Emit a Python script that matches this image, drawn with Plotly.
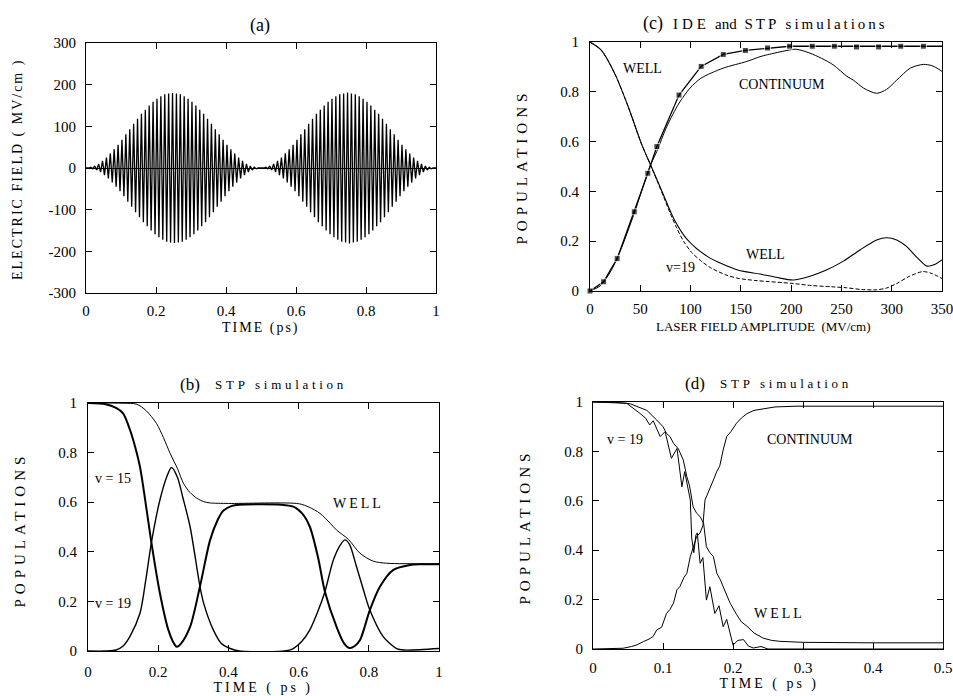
import json
import plotly.graph_objects as go

W, H = 953, 696
SERIF = "Liberation Serif"

# ---------------- (a) electric field: peak amplitude of each carrier cycle (MV/cm)
a_pulse_starts = [0.0, 0.5]
a_pulse_length = 0.5
a_pulse1_amp = [0, 2, 5, 10, 17, 25, 35, 45, 56, 68, 81, 93, 106, 118, 130, 140, 150, 159,
                166, 172, 177, 179, 180, 179, 177, 172, 166, 159, 150, 140, 130, 118, 106, 93,
                81, 68, 56, 45, 35, 25, 17, 10, 5, 2, 0]
a_pulse2_amp = [0, 2, 5, 10, 17, 25, 35, 45, 56, 68, 81, 93, 106, 118, 130, 140, 150, 159,
                166, 172, 177, 179, 181, 179, 177, 172, 166, 159, 150, 140, 130, 118, 106, 93,
                81, 68, 56, 45, 35, 25, 17, 10, 5, 2, 0]
a_xticks = [0, 0.2, 0.4, 0.6, 0.8, 1]
a_xtext = ["0", "0.2", "0.4", "0.6", "0.8", "1"]
a_yticks = [-300, -200, -100, 0, 100, 200, 300]
a_ytext = ["-300", "-200", "-100", "0", "100", "200", "300"]

# ---------------- (b) STP simulation (time in ps)
b_t_well = [0, 0.1, 0.139, 0.165, 0.195, 0.215, 0.234, 0.255, 0.272, 0.29, 0.31, 0.33, 0.348,
            0.4, 0.6, 0.63, 0.661, 0.69, 0.708, 0.742, 0.775, 0.813, 0.85, 0.9, 1.0]
b_well = [1, 0.999, 0.995, 0.97, 0.918, 0.86, 0.797, 0.735, 0.676, 0.64, 0.616, 0.602, 0.597,
          0.595, 0.594, 0.58, 0.555, 0.515, 0.488, 0.45, 0.394, 0.362, 0.354, 0.352, 0.352]
b_t_v15 = [0, 0.05, 0.08, 0.1, 0.115, 0.129, 0.148, 0.167, 0.181, 0.205, 0.229, 0.245, 0.253,
           0.265, 0.291, 0.319, 0.348, 0.37, 0.385, 0.41, 0.43, 0.55, 0.585, 0.61, 0.632, 0.655,
           0.675, 0.708, 0.73, 0.746, 0.76, 0.775, 0.803, 0.832, 0.87, 0.917, 0.95, 1.0]
b_v15 = [1, 0.995, 0.98, 0.958, 0.91, 0.85, 0.743, 0.569, 0.434, 0.232, 0.085, 0.03, 0.017,
         0.03, 0.098, 0.26, 0.448, 0.53, 0.565, 0.585, 0.59, 0.59, 0.582, 0.555, 0.501, 0.38,
         0.239, 0.098, 0.03, 0.012, 0.02, 0.044, 0.165, 0.26, 0.327, 0.347, 0.35, 0.35]
b_t_v19 = [0, 0.05, 0.08, 0.1, 0.12, 0.148, 0.165, 0.181, 0.205, 0.225, 0.238, 0.255, 0.27,
           0.291, 0.319, 0.33, 0.357, 0.38, 0.405, 0.43, 0.56, 0.585, 0.61, 0.632, 0.655, 0.675,
           0.699, 0.72, 0.732, 0.745, 0.765, 0.785, 0.803, 0.841, 0.879, 0.9, 1.0]
b_v19 = [0, 0, 0.004, 0.02, 0.06, 0.152, 0.29, 0.44, 0.61, 0.705, 0.74, 0.70, 0.62, 0.5, 0.26,
         0.19, 0.085, 0.03, 0.01, 0, 0, 0.01, 0.04, 0.085, 0.16, 0.239, 0.367, 0.43, 0.448,
         0.43, 0.34, 0.245, 0.165, 0.058, 0.01, 0.004, 0.01]
b_xticks = [0, 0.2, 0.4, 0.6, 0.8, 1]
b_xtext = ["0", "0.2", "0.4", "0.6", "0.8", "1"]
pop_ticks = [0, 0.2, 0.4, 0.6, 0.8, 1]
pop_text = ["0", "0.2", "0.4", "0.6", "0.8", "1"]

# ---------------- (c) IDE and STP simulations (field amplitude in MV/cm)
c_x_stp = [0, 13.5, 27, 44, 57.5, 66.5, 88.5, 110.5, 132.5, 154.5, 176.5, 198.5, 221, 243,
           265, 287, 309, 331.5, 350]
c_stp = [0, 0.037, 0.13, 0.318, 0.473, 0.58, 0.787, 0.902, 0.95, 0.966, 0.976, 0.983, 0.983,
         0.983, 0.98, 0.98, 0.983, 0.983, 0.983]
c_stp_marked = [1] * 18 + [0]
c_x_cont = [0, 10, 20, 30, 44, 60, 66.4, 76.3, 88.6, 99.5, 110.5, 132.4, 156, 169, 176.5,
            195.8, 205, 218.8, 230, 241.9, 255.5, 261.8, 272, 285, 295, 305, 318.5, 331.4,
            340, 345, 350]
c_cont = [0, 0.02, 0.075, 0.16, 0.312, 0.505, 0.56, 0.66, 0.755, 0.815, 0.855, 0.895, 0.922,
          0.941, 0.949, 0.966, 0.971, 0.955, 0.935, 0.908, 0.862, 0.847, 0.815, 0.794, 0.81,
          0.847, 0.895, 0.91, 0.905, 0.895, 0.882]
c_x_well = [0, 11, 24.5, 38, 51, 61, 71, 84, 97, 117, 147, 169, 185, 202, 218, 235, 252, 268.5,
            285, 295, 305, 315, 325, 335, 342, 350]
c_well = [1.0, 0.968, 0.874, 0.74, 0.593, 0.499, 0.406, 0.285, 0.205, 0.138, 0.084, 0.068,
          0.055, 0.044, 0.058, 0.084, 0.12, 0.165, 0.205, 0.214, 0.205, 0.178, 0.135, 0.1,
          0.105, 0.125]
c_x_v19 = [0, 11, 24.5, 38, 51, 61, 68, 74, 80, 86, 93, 101, 110, 120, 135, 147, 165, 177, 200,
           220, 240, 255, 270, 285, 295, 305, 318, 331, 340, 350]
c_v19 = [1.0, 0.968, 0.874, 0.74, 0.593, 0.499, 0.43, 0.37, 0.31, 0.255, 0.2, 0.155, 0.122,
         0.093, 0.065, 0.051, 0.042, 0.038, 0.031, 0.022, 0.017, 0.013, 0.006, 0.005, 0.012,
         0.03, 0.06, 0.078, 0.07, 0.05]
c_xticks = [0, 50, 100, 150, 200, 250, 300, 350]

# ---------------- (d) STP simulation (time in ps)
d_t_cont = [0, 0.03, 0.043, 0.055, 0.063, 0.072, 0.08, 0.086, 0.091, 0.098, 0.105, 0.11, 0.115,
            0.12, 0.124, 0.13, 0.134, 0.139, 0.143, 0.148, 0.153, 0.157, 0.16, 0.166, 0.172,
            0.177, 0.181, 0.186, 0.191, 0.197, 0.205, 0.212, 0.22, 0.23, 0.243, 0.26, 0.29, 0.5]
d_cont = [0, 0, 0.003, 0.01, 0.017, 0.03, 0.04, 0.051, 0.077, 0.088, 0.144, 0.16, 0.186, 0.24,
          0.252, 0.29, 0.306, 0.374, 0.414, 0.455, 0.47, 0.5, 0.603, 0.64, 0.684, 0.72, 0.74,
          0.806, 0.86, 0.88, 0.914, 0.935, 0.953, 0.966, 0.973, 0.98, 0.983, 0.983]
d_t_well = [0, 0.03, 0.053, 0.077, 0.091, 0.1, 0.105, 0.11, 0.115, 0.122, 0.129, 0.134, 0.138,
            0.143, 0.148, 0.153, 0.158, 0.162, 0.167, 0.172, 0.177, 0.182, 0.186, 0.191, 0.196,
            0.205, 0.212, 0.22, 0.23, 0.243, 0.255, 0.267, 0.3, 0.4, 0.5]
d_well = [1, 0.999, 0.993, 0.966, 0.927, 0.9, 0.873, 0.86, 0.833, 0.81, 0.765, 0.698, 0.66,
          0.576, 0.55, 0.536, 0.509, 0.414, 0.39, 0.374, 0.306, 0.28, 0.252, 0.22, 0.185, 0.14,
          0.11, 0.092, 0.065, 0.044, 0.035, 0.031, 0.027, 0.025, 0.025]
d_t_v19 = [0, 0.03, 0.048, 0.067, 0.075, 0.081, 0.086, 0.096, 0.103, 0.112, 0.12, 0.127, 0.131,
           0.139, 0.141, 0.144, 0.147, 0.149, 0.153, 0.157, 0.162, 0.167, 0.174, 0.18, 0.186,
           0.191, 0.2, 0.207, 0.215, 0.222, 0.229, 0.24, 0.25, 0.5]
d_v19 = [1, 0.998, 0.995, 0.954, 0.935, 0.907, 0.924, 0.86, 0.88, 0.772, 0.812, 0.657, 0.718,
         0.603, 0.45, 0.39, 0.461, 0.47, 0.347, 0.37, 0.198, 0.252, 0.144, 0.175, 0.09, 0.12,
         0.016, 0.035, 0.038, 0.012, 0.004, 0.01, 0, 0]
d_xticks = [0, 0.1, 0.2, 0.3, 0.4, 0.5]
d_xtext = ["0", "0.1", "0.2", "0.3", "0.4", "0.5"]

# ---------------- build the (a) carrier trace from the per-cycle peaks
a_x, a_y = [0.0], [0.0]
for start, amps in zip(a_pulse_starts, [a_pulse1_amp, a_pulse2_amp]):
    period = a_pulse_length / len(amps)
    for k, amp in enumerate(amps):
        tc = start + (k + 0.5) * period
        a_x += [tc - period / 4, tc + period / 4]
        a_y += [amp, -amp]
a_x.append(1.0)
a_y.append(0.0)

fig = go.Figure()
blk = "black"
fig.add_trace(go.Scatter(x=a_x, y=a_y, mode="lines", line=dict(color=blk, width=1.3),
                         xaxis="x", yaxis="y", showlegend=False))

sp = dict(shape="spline", smoothing=0.8)
fig.add_trace(go.Scatter(x=c_x_cont, y=c_cont, mode="lines", line=dict(color=blk, width=1, **sp),
                         xaxis="x2", yaxis="y2", showlegend=False))
fig.add_trace(go.Scatter(x=c_x_v19, y=c_v19, mode="lines",
                         line=dict(color=blk, width=1, dash="4px,2px", **sp),
                         xaxis="x2", yaxis="y2", showlegend=False))
fig.add_trace(go.Scatter(x=c_x_well, y=c_well, mode="lines", line=dict(color=blk, width=1.1, **sp),
                         xaxis="x2", yaxis="y2", showlegend=False))
fig.add_trace(go.Scatter(x=c_x_stp, y=c_stp, mode="lines+markers",
                         line=dict(color=blk, width=1.3),
                         marker=dict(symbol="square", color=blk,
                                     size=[6 if m else 0 for m in c_stp_marked]),
                         cliponaxis=False, xaxis="x2", yaxis="y2", showlegend=False))

fig.add_trace(go.Scatter(x=b_t_well, y=b_well, mode="lines", line=dict(color=blk, width=1, **sp),
                         xaxis="x3", yaxis="y3", showlegend=False))
fig.add_trace(go.Scatter(x=b_t_v19, y=b_v19, mode="lines", line=dict(color=blk, width=1.4, **sp),
                         xaxis="x3", yaxis="y3", showlegend=False))
fig.add_trace(go.Scatter(x=b_t_v15, y=b_v15, mode="lines", line=dict(color=blk, width=2, **sp),
                         xaxis="x3", yaxis="y3", showlegend=False))

fig.add_trace(go.Scatter(x=d_t_cont, y=d_cont, mode="lines", line=dict(color=blk, width=1),
                         xaxis="x4", yaxis="y4", showlegend=False))
fig.add_trace(go.Scatter(x=d_t_well, y=d_well, mode="lines", line=dict(color=blk, width=1),
                         xaxis="x4", yaxis="y4", showlegend=False))
fig.add_trace(go.Scatter(x=d_t_v19, y=d_v19, mode="lines", line=dict(color=blk, width=1),
                         xaxis="x4", yaxis="y4", showlegend=False))


def xdom(p0, p1):
    return [p0 / W, p1 / W]


def ydom(top, bottom):
    return [1 - bottom / H, 1 - top / H]


def ax(domain, rng, tickvals, ticktext, anchor, standoff, **kw):
    d = dict(domain=domain, range=rng, tickvals=tickvals, ticktext=ticktext, anchor=anchor,
             showline=True, linecolor=blk, linewidth=1, mirror="ticks", ticks="inside",
             ticklen=6, tickcolor=blk, tickwidth=1, showgrid=False, zeroline=False,
             automargin=False, ticklabelstandoff=standoff, ticklabeloverflow="allow",
             tickfont=dict(family=SERIF, size=15, color=blk))
    d.update(kw)
    return d


fig.update_layout(
    width=W, height=H, margin=dict(l=0, r=0, t=0, b=0, autoexpand=False),
    autosize=False,
    paper_bgcolor="white", plot_bgcolor="white",
    xaxis=ax(xdom(86, 436), [0, 1], a_xticks, a_xtext, "y", 4),
    yaxis=ax(ydom(43, 293), [-300, 300], a_yticks, a_ytext, "x", 6,
             zeroline=True, zerolinecolor=blk, zerolinewidth=1),
    xaxis2=ax(xdom(590, 942), [0, 350], c_xticks, [str(v) for v in c_xticks], "y2", 4),
    yaxis2=ax(ydom(42, 291), [0, 1], pop_ticks, pop_text, "x2", 7),
    xaxis3=ax(xdom(88, 439), [0, 1], b_xticks, b_xtext, "y3", 7),
    yaxis3=ax(ydom(403, 651), [0, 1], pop_ticks, pop_text, "x3", 7),
    xaxis4=ax(xdom(593, 943), [0, 0.5], d_xticks, d_xtext, "y4", 5),
    yaxis4=ax(ydom(402, 649), [0, 1], pop_ticks, pop_text, "x4", 6),
)

annotations = []
spacing = {}


def label(text, x, y, size=14, letter=0, angle=0):
    if letter:
        spacing[str(len(annotations))] = letter
    annotations.append(dict(text=text, x=x / W, y=1 - y / H, xref="paper", yref="paper",
                            showarrow=False, textangle=angle, xanchor="center", yanchor="middle",
                            font=dict(family=SERIF, size=size, color=blk)))


# panel titles
label("(a)", 260, 25, 18)
label("(c)", 653, 23, 18)
label("IDE", 691, 24, 15, 4)
label("and", 726, 24, 15)
label("STP simulations", 816, 24, 15, 3)
label("(b)", 190, 385, 17)
label("STP simulation", 281, 385, 13, 3.7)
label("(d)", 695, 383, 17)
label("STP simulation", 786, 383, 13, 3.7)
# axis titles
label("ELECTRIC FIELD ( MV/cm )", 18, 169, 14, 2, -90)
label("TIME (ps)", 261, 328, 14, 2)
label("LASER FIELD AMPLITUDE  (MV/cm)", 763, 326, 13)
label("POPULATIONS", 522, 167, 15, 5, -90)
label("POPULATIONS", 20, 530, 15, 5, -90)
label("POPULATIONS", 525, 527, 15, 5, -90)
label("TIME ( ps )", 263, 688, 14, 3)
label("TIME ( ps )", 769, 684, 14, 3)
# curve labels
label("v = 15", 113, 478, 14)
label("v = 19", 113, 603, 14)
label("WELL", 358, 503, 14, 3)
label("WELL", 642, 68, 14)
label("CONTINUUM", 782, 85, 14)
label("WELL", 765, 254, 14)
label("v=19", 680, 267, 14)
label("v = 19", 625, 439, 14)
label("CONTINUUM", 810, 439, 14)
label("WELL", 779, 613, 14, 3)

fig.update_layout(annotations=annotations)

post = """
document.body.style.margin = '0';
document.body.style.padding = '0';
document.documentElement.style.margin = '0';
var gd = document.getElementById('{plot_id}');
var sp = SPACING;
gd.querySelectorAll('g.annotation').forEach(function(g){
  var i = g.getAttribute('data-index');
  if (sp[i] !== undefined) {
    var t = g.querySelector('text.annotation-text');
    if (t) { t.style.letterSpacing = sp[i] + 'px'; }
  }
});
""".replace("SPACING", json.dumps(spacing))

fig.write_html("out.html", post_script=post,
               config={"responsive": False, "displayModeBar": False})
